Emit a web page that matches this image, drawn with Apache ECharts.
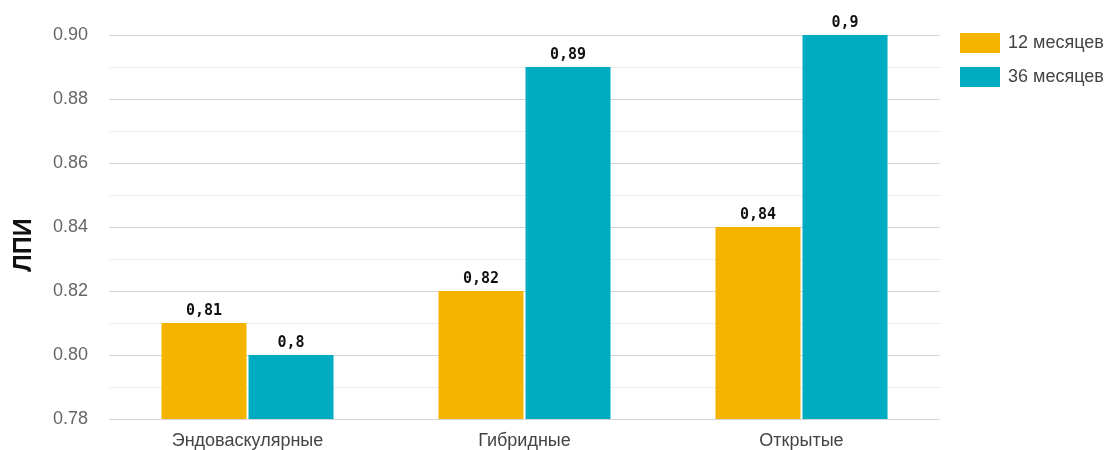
<!DOCTYPE html>
<html>
<head>
<meta charset="utf-8">
<style>
  html, body { margin: 0; padding: 0; background: #fff; }
  #chart { width: 1118px; height: 450px; }
</style>
<script src="https://cdn.jsdelivr.net/npm/echarts@6/dist/echarts.min.js"></script>
</head>
<body>
<div id="chart"></div>
<script>
// Ankle-brachial index by treatment type at two follow-up points
const categories = ['Эндоваскулярные', 'Гибридные', 'Открытые'];
const seriesNames = ['12 месяцев', '36 месяцев'];
const values12 = [0.81, 0.82, 0.84];
const values36 = [0.80, 0.89, 0.90];
const yMin = 0.78, yMax = 0.90, yStep = 0.02;

const colors = ['#F4B400', '#00ACC1'];
const sans = 'Liberation Sans, Arial, sans-serif';

const chart = echarts.init(document.getElementById('chart'), null, { renderer: 'canvas' });

function barSeries(name, data, color) {
  return {
    name: name,
    type: 'bar',
    data: data,
    barWidth: 85,
    barGap: '2.4%',
    itemStyle: { color: color },
    label: {
      show: true,
      position: 'top',
      distance: 4,
      color: '#111',
      fontFamily: 'DejaVu Sans Mono, monospace',
      fontWeight: 'bold',
      fontSize: 15,
      formatter: p => String(p.value).replace('.', ',')
    }
  };
}

chart.setOption({
  animation: false,
  color: colors,
  grid: { left: 109, right: 178, top: 35, bottom: 31, containLabel: false },
  legend: {
    orient: 'vertical',
    left: 955,
    top: 28,
    itemWidth: 40,
    itemHeight: 20,
    itemGap: 14,
    icon: 'rect',
    textStyle: { color: '#444', fontSize: 18, fontFamily: sans, padding: [0, 0, 0, 3] },
    data: seriesNames
  },
  xAxis: {
    type: 'category',
    data: categories,
    axisLine: { show: false },
    axisTick: { show: false },
    axisLabel: { color: '#444', fontSize: 18, margin: 13, fontFamily: sans }
  },
  yAxis: {
    type: 'value',
    min: yMin,
    max: yMax,
    interval: yStep,
    name: 'ЛПИ',
    nameLocation: 'middle',
    nameGap: 72,
    nameTextStyle: { color: '#111', fontSize: 25, fontWeight: 'bold', fontFamily: sans, padding: [0, 36, 0, 0] },
    axisLine: { show: false },
    axisTick: { show: false },
    axisLabel: {
      color: '#666', fontSize: 18, margin: 21, fontFamily: sans,
      formatter: v => v.toFixed(2)
    },
    splitLine: { lineStyle: { color: '#d4d4d4', width: 1 } },
    minorTick: { show: false, splitNumber: 2 },
    minorSplitLine: { show: true, lineStyle: { color: '#ececec', width: 1 } }
  },
  series: [
    barSeries(seriesNames[0], values12, colors[0]),
    barSeries(seriesNames[1], values36, colors[1])
  ]
});
</script>
</body>
</html>
